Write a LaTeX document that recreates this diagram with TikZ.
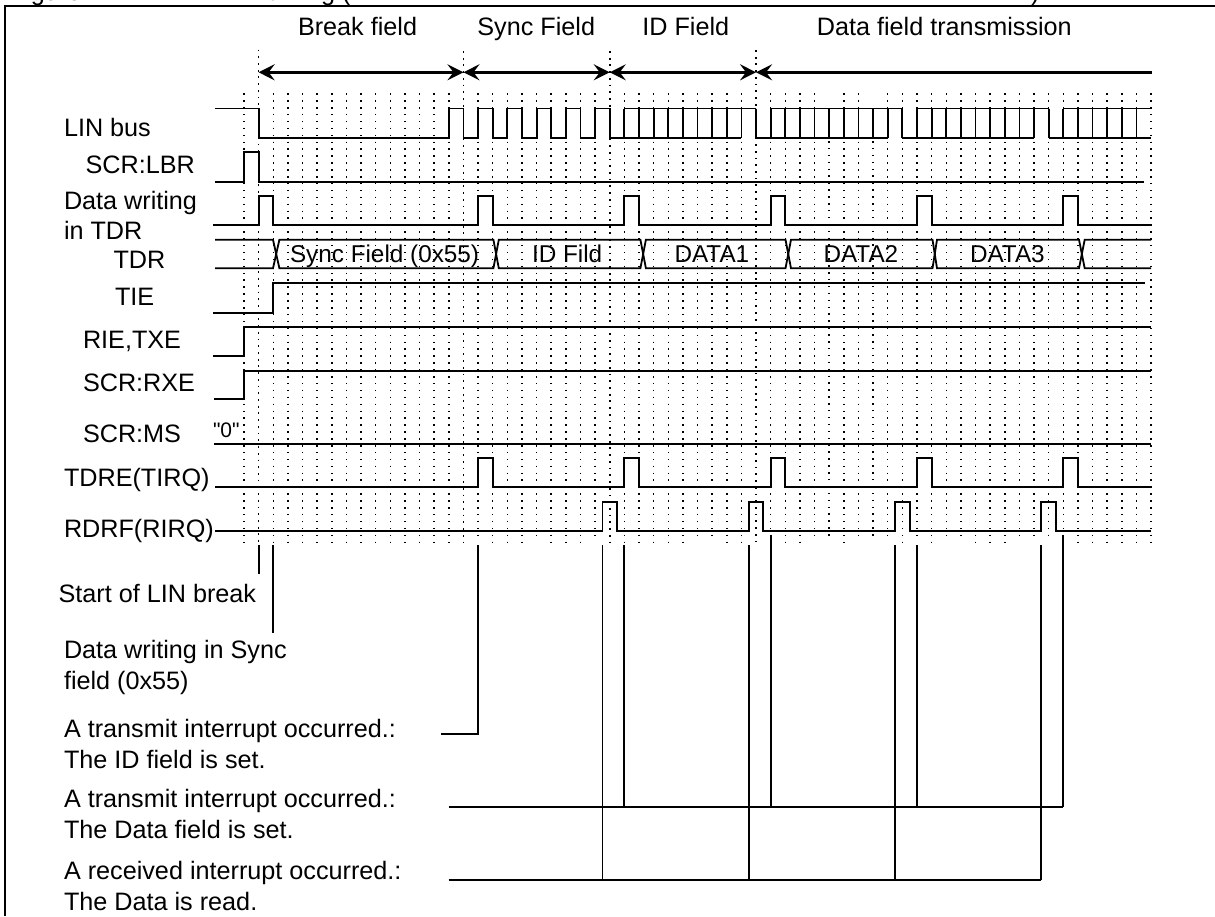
\documentclass[tikz,border=0pt]{standalone}
\usepackage{fontspec}
\setmainfont{Liberation Sans}
\newfontfamily\rawsans{Liberation Sans}
\usetikzlibrary{arrows.meta}
\tikzset{
  declare function={K(\k)=244+14.63*\k;},
  x=1pt,y=-1pt,
  sig/.style={line width=1.8pt,black,line join=miter},
  frameline/.style={line width=2.3pt,black},
  griddot/.style={line width=1.5pt,dash pattern=on 1.5pt off 5.397pt},
  maindot/.style={line width=1.7pt,dash pattern=on 1.8pt off 4.92pt},
  span/.style={line width=3.2pt,{Stealth[length=16pt,width=16pt,inset=6pt]}-{Stealth[length=16pt,width=16pt,inset=6pt]}},
  spanopen/.style={line width=3.2pt,{Stealth[length=16pt,width=16pt,inset=6pt]}-},
  callout/.style={line width=1.8pt,black},
  lab/.style={anchor=base west,inner sep=0pt,outer sep=0pt,font=\fontsize{25.2}{30}\selectfont},
  buslab/.style={anchor=base west,inner sep=0pt,outer sep=0pt,font=\fontsize{24.3}{30}\selectfont},
  zerolab/.style={anchor=base west,inner sep=0pt,outer sep=0pt,font=\rawsans\fontsize{21}{25}\selectfont},
}
\newcommand{\pl}[1]{-- ({K(#1)},\yl) -- ({K(#1)},\yh) -- ({K(#1+1)},\yh) -- ({K(#1+1)},\yl)}
\begin{document}
\begin{tikzpicture}
\useasboundingbox (0,0) rectangle (1215,916);
\fill[white] (0,0) rectangle (1215,916);

% dot grid
\foreach \k in {0,2,3,...,14,16,17,...,24,26,27,...,34,36,37,38,39,41,42,44,45,...,62}{
  \draw[griddot] ({K(\k)},93.25) -- ({K(\k)},543);
}
% blanks in the lowest row of dots
\foreach \k in {16,20,24,31,32,36,39,42,44,46,48,49,53,54,55}{
  \fill[white] ({K(\k)-2},538.5) rectangle ({K(\k)+2},544);
}
\foreach \k in {40,43}{
  \draw[griddot] ({K(\k)},141) -- ({K(\k)},539);
}
\foreach \k/\t/\b in {1/49.6/543,15/51/543,25/51/543,35/50/541}{
  \draw[maindot] ({K(\k)},\t) -- ({K(\k)},\b);
}

% frame
\coordinate (fbl) at (4.7,916);
\coordinate (ftl) at (4.7,6.3);
\coordinate (ftr) at (1215,6.3);
\draw[frameline] (fbl) -- (ftl) -- (ftr);

% title, cut off by the top edge in the reference
\node[lab] (title1) at (10,0) {Figure};
\node[lab] (title2) at (268,0) {timing (};
\node[lab] (title3) at (1031,0) {)};

% field headings and spans
\node[lab] (hbreak) at (298,35) {Break field};
\node[lab] (hsync) at (477.4,35) {Sync Field};
\node[lab] (hid) at (642.4,35) {ID Field};
\node[lab] (hdata) at (816.9,35) {Data field transmission};
\coordinate (s0) at ({K(1)},72.3);
\coordinate (s1) at ({K(15)},72.3);
\coordinate (s2) at ({K(25)},72.3);
\coordinate (s3) at ({K(35)},72.3);
\coordinate (s4) at (1152,72.3);
\draw[span] (s0) -- (s1);
\draw[span] (s1) -- (s2);
\draw[span] (s2) -- (s3);
\draw[spanopen] (s3) -- (s4);

% signal names
\node[lab] (lin) at (64,136.7) {LIN bus};
\node[lab] (lbr) at (85.6,173) {SCR:LBR};
\node[lab] (dw1) at (64,209) {Data writing};
\node[lab] (dw2) at (64,239) {in TDR};
\node[lab] (tdr) at (113.6,268) {TDR};
\node[lab] (tie) at (115,305) {TIE};
\node[lab] (rie) at (83,348.7) {RIE,TXE};
\node[lab] (rxe) at (83,391) {SCR:RXE};
\node[zerolab] (zero) at (213,437) {"0"};
\node[lab] (ms) at (83,442) {SCR:MS};
\node[lab] (tdre) at (64,486.7) {TDRE(TIRQ)};
\node[lab] (rdrf) at (64,537) {RDRF(RIRQ)};

% LIN bus
\def\yh{108.5}\def\yl{137.7}
\draw[sig] (215,\yh) -- ({K(1)},\yh) -- ({K(1)},\yl) -- ({K(14)},\yl)
  \pl{14} \pl{16} \pl{18} \pl{20} \pl{22} \pl{24};
\foreach \a/\b in {26/35,36/45,46/55,56/62}{
  \draw[sig] ({K(\a)},\yh) -- ({K(\b)},\yh);
}
\foreach \a/\b in {25/34,35/44,45/54,55/62}{
  \draw[sig] ({K(\a)},\yl) -- ({K(\b)},\yl);
}
\foreach \k in {26,27,...,61}{
  \draw[sig] ({K(\k)},\yh) -- ({K(\k)},\yl);
}

% SCR:LBR
\def\yh{152.3}\def\yl{181.7}
\draw[sig] (215,\yl) \pl{0} -- (1144,\yl);

% Data writing
\def\yh{196}\def\yl{225.3}
\draw[sig] (213,\yl) \pl{1} \pl{16} \pl{26} \pl{36} \pl{46} \pl{56} -- (1151,\yl);

% TDR bus
\def\yh{239.7}\def\yl{268.3}
\draw[sig] (215,\yh) -- (273,\yh) -- (279.4,\yl) -- (493.4,\yl) -- (498.8,\yh) -- (640.4,\yh) -- (645.9,\yl) -- (785.5,\yl) -- (791,\yh) -- (932.5,\yh) -- (937,\yl) -- (1079,\yl) -- (1084.7,\yh) -- (1151,\yh);
\draw[sig] (215,\yl) -- (273,\yl) -- (279.4,\yh) -- (493.4,\yh) -- (498.8,\yl) -- (640.4,\yl) -- (645.9,\yh) -- (785.5,\yh) -- (791,\yl) -- (932.5,\yl) -- (937,\yh) -- (1079,\yh) -- (1084.7,\yl) -- (1151,\yl);
\node[buslab] (tdr1) at (290,262) {Sync Field (0x55)};
\node[buslab] (tdr2) at (532,262) {ID Fild};
\node[buslab] (tdr3) at (674.5,262) {DATA1};
\node[buslab] (tdr4) at (823.5,262) {DATA2};
\node[buslab] (tdr5) at (970,262) {DATA3};

% level lines
\draw[sig] (213,312.7) -- ({K(2)},312.7) -- ({K(2)},283.3) -- (1145,283.3);
\draw[sig] (213,356) -- ({K(0)},356) -- ({K(0)},327) -- (1151,327);
\draw[sig] (214,399.3) -- ({K(0)},399.3) -- ({K(0)},370.7) -- (1151,370.7);
\draw[sig] (214,443.7) -- (1151,443.7);

% TDRE
\def\yh{458.3}\def\yl{487}
\draw[sig] (215,\yl) \pl{16} \pl{26} \pl{36} \pl{46} \pl{56} -- (1152,\yl);

% RDRF
\def\yh{501.7}\def\yl{530.7}
\draw[sig] (215,\yl) \pl{24.5} \pl{34.5} \pl{44.5} \pl{54.5} -- (1151,\yl);

% lower notes
\node[lab] (nstart) at (58.6,602.7) {Start of LIN break};
\node[lab] (nsync1) at (64,658) {Data writing in Sync};
\node[lab] (nsync2) at (64,689) {field (0x55)};
\node[lab] (nid1) at (64,737.7) {A transmit interrupt occurred.:};
\node[lab] (nid2) at (64,768) {The ID field is set.};
\node[lab] (ndat1) at (64,807) {A transmit interrupt occurred.:};
\node[lab] (ndat2) at (64,838) {The Data field is set.};
\node[lab] (nrd1) at (64,879) {A received interrupt occurred.:};
\node[lab] (nrd2) at (64,910) {The Data is read.};

% callouts
\coordinate (c1a) at ({K(1)},545);
\coordinate (c1b) at ({K(1)},574);
\draw[callout] (c1a) -- (c1b);
\coordinate (c2a) at ({K(2)},545);
\coordinate (c2b) at ({K(2)},632.7);
\draw[callout] (c2a) -- (c2b);
\coordinate (c3a) at ({K(16)},545);
\coordinate (c3b) at ({K(16)},734);
\coordinate (c3c) at (441,734);
\draw[callout] (c3a) -- (c3b) -- (c3c);

\coordinate (tb0) at (448.5,806.7);
\coordinate (tb1) at ({K(56)},806.7);
\draw[callout] (tb0) -- (tb1);
\foreach \k/\t in {26/545,36/535,46/545,56/535}{
  \draw[callout] ({K(\k)},\t) -- ({K(\k)},806.7);
}
\coordinate (rb0) at (448.5,880);
\coordinate (rb1) at ({K(54.5)},880);
\draw[callout] (rb0) -- (rb1);
\foreach \k in {24.5,34.5,44.5,54.5}{
  \draw[callout] ({K(\k)},545) -- ({K(\k)},880);
}
\end{tikzpicture}
\end{document}
